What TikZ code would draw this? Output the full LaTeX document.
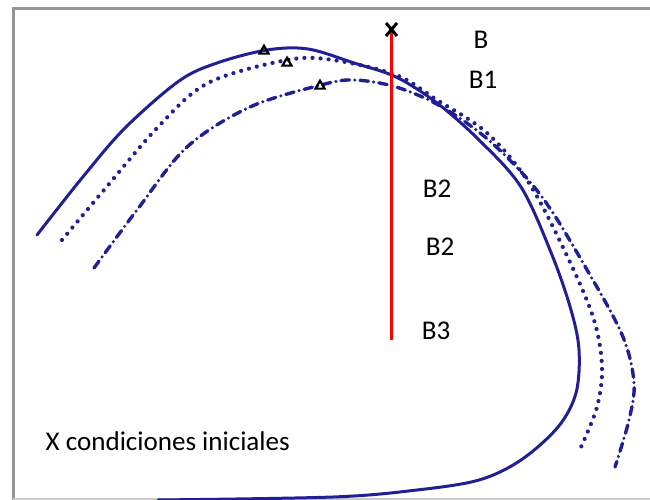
\documentclass[tikz,border=0pt]{standalone}
\usepackage{fontspec}
\setmainfont{Carlito}
\usetikzlibrary{shapes.geometric}
\definecolor{curveblue}{RGB}{32,32,148}
\definecolor{framegray}{RGB}{150,150,150}
\tikzset{
  orbit/.style={curveblue,line width=0.3mm,line cap=round},
  dotline/.style={orbit,line width=0.42mm,dash pattern=on 0pt off 2.3pt},
  dashdotline/.style={orbit,line width=0.34mm,dash pattern=on 2.4pt off 1.5pt on 0pt off 1.5pt},
  peak/.style={regular polygon,regular polygon sides=3,draw=black,line width=0.22mm,inner sep=0pt,minimum size=1.05mm},
  lbl/.style={font=\fontsize{7.7}{9}\selectfont,inner sep=0pt}
}
\begin{document}
\begin{tikzpicture}[x=0.1mm,y=-0.1mm]
        \useasboundingbox (0,0) rectangle (650,500);
        \draw[framegray,line width=0.3mm] (13,500) -- (13,9) -- (650,9);
        \draw[framegray!50,line width=0.2mm] (13,498.5) -- (650,498.5);
        \draw[orbit] plot[smooth,tension=0.55] coordinates {(37,235) (82,178) (125,128) (179,81) (217,63) (267,50) (308,49) (354,63) (396,77) (437,103) (479,140) (521,187) (552,255) (571,310) (579,350) (576,393) (558,427) (521,460) (479,480) (417,490) (333,497) (158,500)};
        \draw[dotline] plot[smooth,tension=0.55] coordinates {(62,240) (104,190) (158,127) (208,83) (287,60) (333,60) (396,75) (437,100) (487,133) (529,183) (569,260) (594,320) (602,367) (597,407) (581,447)};
        \draw[dashdotline] plot[smooth,tension=0.55] coordinates {(94,268) (137,210) (187,147) (250,107) (321,85) (354,80) (396,87) (442,107) (492,143) (542,197) (590,275) (623,337) (634,383) (629,420) (615,467)};
        \draw[red,line width=0.3mm] (391,32) -- (391,340);
        \draw[black,line width=0.3mm] (386,23) -- (397,36) (397,23) -- (386,36);
        \node[peak] (p1) at (264,51) {};
        \node[peak] (p2) at (287,63) {};
        \node[peak] (p3) at (320,86) {};
        \node[lbl] (b) at (481,40) {B};
        \node[lbl] (b1) at (483,80) {B1};
        \node[lbl] (b2a) at (437,189) {B2};
        \node[lbl] (b2b) at (440,247) {B2};
        \node[lbl] (b3) at (436,331) {B3};
        \node[lbl,anchor=west] (cond) at (45,441) {X condiciones iniciales};
      \end{tikzpicture}
\end{document}
